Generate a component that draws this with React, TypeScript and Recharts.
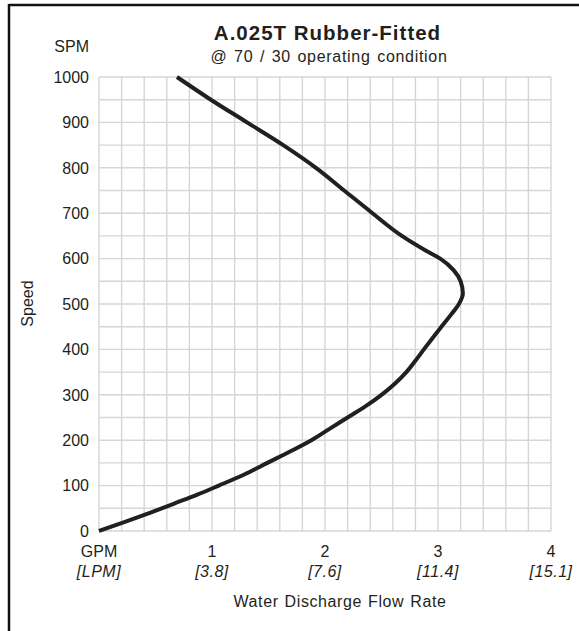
import React from "react";
import { CartesianGrid, Line, LineChart, XAxis, YAxis } from "recharts";

// curve, ordered by speed
const speedSpm = [
  0, 20, 40, 60, 80, 100, 125, 150, 175, 200, 225, 250, 275, 300, 325, 350, 375, 400, 450, 475,
  500, 523, 550, 574, 600, 618, 650, 700, 750, 800, 850, 900, 950, 1000,
];
const flowGpm = [
  0, 0.23, 0.45, 0.66, 0.87, 1.06, 1.29, 1.49, 1.69, 1.88, 2.04, 2.2, 2.36, 2.5, 2.62, 2.72, 2.8,
  2.875, 3.03, 3.11, 3.185, 3.22, 3.2, 3.14, 3.02, 2.89, 2.68, 2.42, 2.17, 1.92, 1.63, 1.31, 0.99,
  0.69,
];

// grid steps (labels only on the major ones)
const flowGridTicks = [
  0, 0.2, 0.4, 0.6, 0.8, 1, 1.2, 1.4, 1.6, 1.8, 2, 2.2, 2.4, 2.6, 2.8, 3, 3.2, 3.4, 3.6, 3.8, 4,
];
const speedGridTicks = [
  0, 50, 100, 150, 200, 250, 300, 350, 400, 450, 500, 550, 600, 650, 700, 750, 800, 850, 900, 950,
  1000,
];
const flowMajor = [0, 1, 2, 3, 4];
const gpmLabels = ["GPM", "1", "2", "3", "4"];
const lpmLabels = ["[LPM]", "[3.8]", "[7.6]", "[11.4]", "[15.1]"];
const speedMajor = [0, 100, 200, 300, 400, 500, 600, 700, 800, 900, 1000];

const data = speedSpm.map((spm, i) => ({ spm, gpm: flowGpm[i] }));

const FONT = "'Liberation Sans', Arial, Helvetica, sans-serif";
const INK = "#231f20";

function FlowTick(props: any) {
  const { x, y, payload } = props;
  const idx = flowMajor.findIndex((m) => Math.abs(m - payload.value) < 1e-6);
  if (idx < 0) return null;
  return (
    <g>
      <text x={x} y={y + 26} textAnchor="middle" fontSize={16} fill={INK} fontFamily={FONT}>
        {gpmLabels[idx]}
      </text>
      <text
        x={x}
        y={y + 46}
        textAnchor="middle"
        fontSize={16}
        fontStyle="italic"
        letterSpacing={0.5}
        fill={INK}
        fontFamily={FONT}
      >
        {lpmLabels[idx]}
      </text>
    </g>
  );
}

function SpeedTick(props: any) {
  const { x, y, payload } = props;
  if (!speedMajor.includes(payload.value)) return null;
  return (
    <text x={x} y={y} dy="0.36em" textAnchor="end" fontSize={16} fill={INK} fontFamily={FONT}>
      {payload.value}
    </text>
  );
}

export default function App() {
  return (
    <div style={{ position: "absolute", left: 0, top: 0, width: 579, height: 631, background: "#fff" }}>
      <LineChart width={579} height={631} data={data} margin={{ top: 77, right: 28, bottom: 40, left: 0 }}>
        <CartesianGrid stroke="#d6d6d6" strokeWidth={1.4} />
        <XAxis
          type="number"
          dataKey="gpm"
          domain={[0, 4]}
          ticks={flowGridTicks}
          interval={0}
          tick={<FlowTick />}
          tickLine={false}
          axisLine={false}
          tickSize={0}
          tickMargin={0}
          height={60}
        />
        <YAxis
          type="number"
          domain={[0, 1000]}
          ticks={speedGridTicks}
          interval={0}
          tick={<SpeedTick />}
          tickLine={false}
          axisLine={false}
          tickSize={0}
          tickMargin={10}
          width={99}
        />
        <Line
          type="monotoneY"
          dataKey="spm"
          stroke={INK}
          strokeWidth={4}
          dot={false}
          isAnimationActive={false}
        />
      </LineChart>

      <svg
        width={579}
        height={631}
        style={{ position: "absolute", left: 0, top: 0, pointerEvents: "none" }}
        fontFamily={FONT}
        fill={INK}
      >
        <text x={327.5} y={39.5} textAnchor="middle" fontSize={20.5} fontWeight="bold" letterSpacing={1}>
          A.025T Rubber-Fitted
        </text>
        <text x={329} y={61.5} textAnchor="middle" fontSize={16} letterSpacing={0.7} wordSpacing={1.5}>
          @ 70 / 30 operating condition
        </text>
        <text x={89} y={52} textAnchor="end" fontSize={16}>
          SPM
        </text>
        <text x={33} y={303.5} textAnchor="middle" fontSize={16} transform="rotate(-90 33 303.5)">
          Speed
        </text>
        <text x={340} y={607} textAnchor="middle" fontSize={16} letterSpacing={0.6} wordSpacing={1}>
          Water Discharge Flow Rate
        </text>
        <line x1={9} y1={5} x2={579} y2={5} stroke="#111" strokeWidth={2.5} />
        <line x1={9} y1={4} x2={9} y2={631} stroke="#111" strokeWidth={2.5} />
      </svg>
    </div>
  );
}
